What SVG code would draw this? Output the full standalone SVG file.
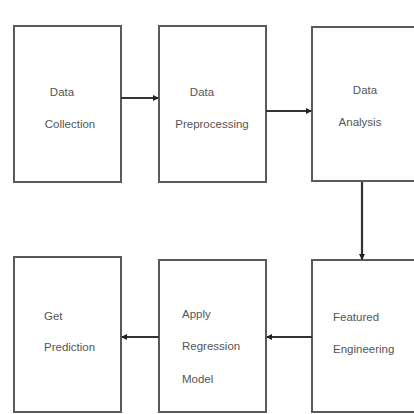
<svg xmlns="http://www.w3.org/2000/svg" width="414" height="414" viewBox="0 0 414 414">
<style>
.box{fill:#fff;stroke:#5a5a5a;stroke-width:2}
.t{font-family:"Liberation Sans",Arial,sans-serif;font-size:11.5px;fill:#555}
.c{stroke:#333;stroke-width:2.2;fill:none}
</style>
<defs>
<marker id="ah" markerWidth="6" markerHeight="6" refX="5" refY="3" orient="auto" markerUnits="userSpaceOnUse" viewBox="0 0 6 6">
<path d="M0,0 L6,3 L0,6 Z" fill="#222"/>
</marker>
</defs>
<rect width="414" height="414" fill="#fff"/>
<g id="n1"><rect class="box" x="14" y="26" width="107" height="156"/>
<text class="t" x="62" y="96" text-anchor="middle">Data</text>
<text class="t" x="70" y="128" text-anchor="middle">Collection</text></g>
<g id="n2"><rect class="box" x="159" y="26" width="107" height="156"/>
<text class="t" x="202" y="96" text-anchor="middle">Data</text>
<text class="t" x="212" y="128" text-anchor="middle">Preprocessing</text></g>
<g id="n3"><rect class="box" x="312" y="27" width="110" height="154"/>
<text class="t" x="365" y="94" text-anchor="middle">Data</text>
<text class="t" x="360" y="126" text-anchor="middle">Analysis</text></g>
<g id="n4"><rect class="box" x="312" y="260" width="110" height="152"/>
<text class="t" x="333" y="321">Featured</text>
<text class="t" x="333" y="353">Engineering</text></g>
<g id="n5"><rect class="box" x="159" y="260" width="107" height="152"/>
<text class="t" x="182" y="318">Apply</text>
<text class="t" x="182" y="350">Regression</text>
<text class="t" x="182" y="383">Model</text></g>
<g id="n6"><rect class="box" x="14" y="257" width="107" height="155"/>
<text class="t" x="44" y="320">Get</text>
<text class="t" x="44" y="351">Prediction</text></g>
<g id="connectors">
<line class="c" x1="121" y1="98" x2="158" y2="98" marker-end="url(#ah)"/>
<line class="c" x1="266" y1="111" x2="311" y2="111" marker-end="url(#ah)"/>
<line class="c" x1="362" y1="182" x2="362" y2="259" stroke-width="1.5" marker-end="url(#ah)"/>
<line class="c" x1="312" y1="337" x2="267" y2="337" marker-end="url(#ah)"/>
<line class="c" x1="159" y1="337" x2="122" y2="337" marker-end="url(#ah)"/>
</g>
</svg>
